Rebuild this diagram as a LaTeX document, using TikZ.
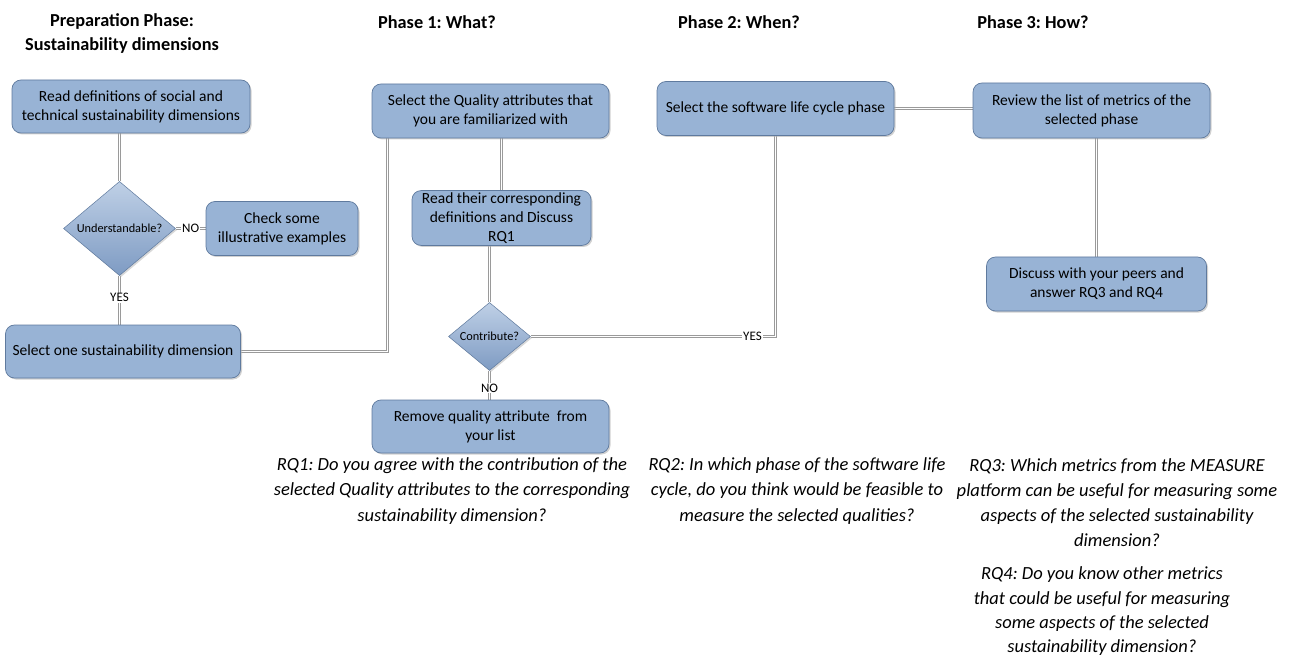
\documentclass[tikz,border=0pt]{standalone}
\usepackage{fontspec}
\setmainfont{Carlito}
\usetikzlibrary{shapes.geometric,shadows,calc,backgrounds}
\definecolor{boxfill}{HTML}{98B3D5}
\definecolor{boxborder}{HTML}{5F7A9E}
\definecolor{dtop}{HTML}{BFD0E6}
\definecolor{dbot}{HTML}{7E9BC3}
\definecolor{linegray}{HTML}{9A9A9A}
\frenchspacing
\begin{document}
\begin{tikzpicture}[x=1pt,y=-1pt,
  box/.style={draw=boxborder, fill=boxfill, rounded corners=9pt, align=center, inner sep=2pt,
    font=\fontsize{15.5}{19}\selectfont, line width=0.7pt,
    drop shadow={shadow xshift=1.5pt, shadow yshift=-1.5pt, fill=black!30, opacity=0.6}},
  dec/.style={diamond, draw=boxborder, top color=dtop, bottom color=dbot, inner sep=0pt,
    font=\fontsize{12.3}{14}\selectfont, line width=0.5pt,
    drop shadow={shadow xshift=1.5pt, shadow yshift=-1.5pt, fill=black!30, opacity=0.5}},
  conn/.style={draw=linegray, double=white, double distance=1.2pt, line width=0.9pt},
  lbl/.style={fill=white, inner sep=1pt, font=\fontsize{13}{14}\selectfont},
  title/.style={font=\fontsize{18.3}{24}\selectfont\bfseries, align=center},
  rq/.style={font=\fontsize{18.5}{25.5}\selectfont\itshape, align=center}
]
\useasboundingbox (0,0) rectangle (1304,655);

% titles
\node[title] (t0) at (122,34) {Preparation Phase:\\Sustainability dimensions};
\node[title] (t1) at (437,22) {Phase 1: What?};
\node[title] (t2) at (739,22) {Phase 2: When?};
\node[title] (t3) at (1033,22) {Phase 3: How?};

% preparation
\node[box, minimum width=238pt, minimum height=53pt] (rd) at (131,106.5)
  {Read definitions of social and\\technical sustainability dimensions};
\node[dec, minimum width=112pt, minimum height=83pt] (und) at (119.5,228.5) {Understandable?};
\node[box, minimum width=152pt, minimum height=54pt] (chk) at (282,228.5)
  {Check some\\illustrative examples};
\node[box, minimum width=235pt, minimum height=53pt] (sel) at (123,351.5)
  {Select one sustainability dimension};

% phase 1
\node[box, minimum width=237pt, minimum height=54pt] (qa) at (490.5,111)
  {Select the Quality attributes that\\you are familiarized with};
\node[box, minimum width=179pt, minimum height=54pt] (rdq) at (501.5,218)
  {Read their corresponding\\definitions and Discuss\\RQ1};
\node[dec, minimum width=82pt, minimum height=61pt] (con) at (489.5,336.5) {Contribute?};
\node[box, minimum width=237pt, minimum height=53pt] (rem) at (490.5,426.5)
  {Remove quality attribute\ \ from\\your list};

% phase 2
\node[box, minimum width=237pt, minimum height=54pt] (slc) at (775.5,108.5)
  {Select the software life cycle phase};

% phase 3
\node[box, minimum width=237pt, minimum height=55pt] (rev) at (1091.5,110.5)
  {Review the list of metrics of the\\selected phase};
\node[box, minimum width=220pt, minimum height=54pt] (dis) at (1096.5,284)
  {Discuss with your peers and\\answer RQ3 and RQ4};

% connectors
\coordinate (qaIn) at ($(qa.south)+(-103,0)$);
\begin{scope}[on background layer]
\draw[conn] (und.north) -- (und.north |- rd.south);
\draw[conn] (und.east) -- (chk.west);
\draw[conn] (und.south) -- (und.south |- sel.north);
\draw[conn] (sel.east) -| (qaIn);
\draw[conn] (rdq.north) -- (rdq.north |- qa.south);
\draw[conn] (con.north) -- (con.north |- rdq.south);
\draw[conn] (con.south) -- (con.south |- rem.north);
\draw[conn] (con.east) -| (slc.south);
\draw[conn] (slc.east) -- (slc.east -| rev.west);
\draw[conn] (dis.north) -- (dis.north |- rev.south);
\end{scope}
\path (und.east) -- node[lbl] (noA) {NO} (chk.west);
\path (und.south) -- node[lbl, pos=0.45] (yesA) {YES} (und.south |- sel.north);
\path (con.south) -- node[lbl, pos=0.6] (noB) {NO} (con.south |- rem.north);
\path (con.east) -| node[lbl, pos=0.453] (yesB) {YES} (slc.south);

% research questions
\node[rq] (rq1) at (452,491) {RQ1: Do you agree with the contribution of the\\selected Quality attributes to the corresponding\\sustainability dimension?};
\node[rq] (rq2) at (797,491) {RQ2: In which phase of the software life\\cycle, do you think would be feasible to\\measure the selected qualities?};
\node[rq, font=\fontsize{18.5}{25}\selectfont\itshape] (rq3) at (1117,503) {RQ3: Which metrics from the MEASURE\\platform can be useful for measuring some\\aspects of the selected sustainability\\dimension?};
\node[rq, font=\fontsize{18.5}{24.3}\selectfont\itshape] (rq4) at (1102,611.5) {RQ4: Do you know other metrics\\that could be useful for measuring\\some aspects of the selected\\sustainability dimension?};
\end{tikzpicture}
\end{document}
